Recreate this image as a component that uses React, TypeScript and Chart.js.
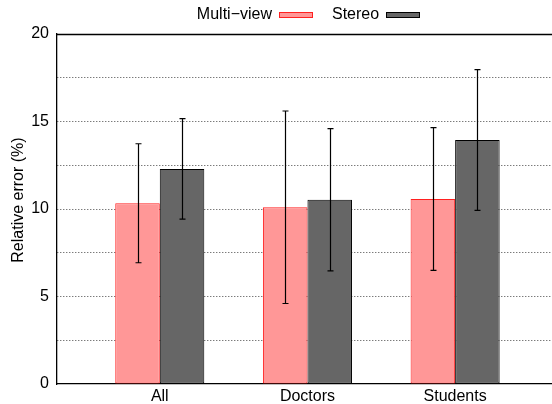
import React, { useEffect, useRef } from "react";
import { Chart, registerables } from "chart.js";

Chart.register(...registerables);

const categories = ["All", "Doctors", "Students"];
const seriesNames = ["Multi\u2212view", "Stereo"];
const multiView = [10.33, 10.1, 10.57];
const multiViewErr = [3.4, 5.5, 4.08];
const stereo = [12.29, 10.53, 13.94];
const stereoErr = [2.87, 4.06, 4.02];
const yLabelTicks = [0, 5, 10, 15, 20];
const yTitle = "Relative error (%)";

const FONT = "'Liberation Sans', Arial, Helvetica, sans-serif";

const errorBarPlugin = {
  id: "errorBars",
  afterDatasetsDraw(chart: any) {
    const ctx = chart.ctx;
    const yScale = chart.scales.y;
    ctx.save();
    ctx.strokeStyle = "#000";
    ctx.lineWidth = 1.2;
    chart.data.datasets.forEach((ds: any, d: number) => {
      const meta = chart.getDatasetMeta(d);
      meta.data.forEach((el: any, j: number) => {
        const v = ds.data[j].y;
        const e = ds.errors[j];
        const x = Math.round(el.x) + 0.5;
        const yHi = yScale.getPixelForValue(v + e);
        const yLo = yScale.getPixelForValue(v - e);
        ctx.beginPath();
        ctx.moveTo(x, yHi);
        ctx.lineTo(x, yLo);
        ctx.moveTo(x - 3, yHi);
        ctx.lineTo(x + 3, yHi);
        ctx.moveTo(x - 3, yLo);
        ctx.lineTo(x + 3, yLo);
        ctx.stroke();
      });
    });
    ctx.restore();
  },
};

const framePlugin = {
  id: "frame",
  afterDraw(chart: any) {
    const ctx = chart.ctx;
    const ca = chart.chartArea;
    ctx.save();
    // top border
    ctx.strokeStyle = "#000";
    ctx.lineWidth = 1.3;
    ctx.beginPath();
    ctx.moveTo(ca.left, Math.round(ca.top) + 0.5);
    ctx.lineTo(ca.right, Math.round(ca.top) + 0.5);
    ctx.stroke();

    // y title
    ctx.fillStyle = "#000";
    ctx.font = `16px ${FONT}`;
    ctx.textAlign = "center";
    ctx.textBaseline = "middle";
    ctx.translate(18.5, (ca.top + ca.bottom) / 2 - 9);
    ctx.rotate(-Math.PI / 2);
    ctx.fillText(yTitle, 0, 0);
    ctx.restore();

    // legend: text then box
    ctx.save();
    ctx.font = `16px ${FONT}`;
    ctx.textBaseline = "alphabetic";
    ctx.textAlign = "left";
    const boxW = 33;
    const textGap = 7;
    const itemGap = 20;
    const widths = chart.data.datasets.map(
      (ds: any) => ctx.measureText(ds.label).width + textGap + boxW
    );
    const total = widths.reduce((a: number, b: number) => a + b, 0) + itemGap * (widths.length - 1);
    let x = (ca.left + ca.right) / 2 + 3.5 - total / 2;
    chart.data.datasets.forEach((ds: any, i: number) => {
      ctx.fillStyle = "#000";
      ctx.fillText(ds.label, x, 19);
      const tw = ctx.measureText(ds.label).width;
      const bx = Math.round(x + tw + textGap) + 0.5;
      ctx.fillStyle = ds.backgroundColor;
      ctx.fillRect(bx, 12.5, boxW, 5);
      ctx.strokeStyle = ds.borderColor;
      ctx.lineWidth = 1;
      ctx.strokeRect(bx, 12.5, boxW, 5);
      x += widths[i] + itemGap;
    });
    ctx.restore();
  },
};

export default function App() {
  const ref = useRef<HTMLCanvasElement | null>(null);

  useEffect(() => {
    if (!ref.current) return;
    Chart.defaults.font.family = FONT;
    Chart.defaults.font.size = 16;
    Chart.defaults.color = "#000";
    const chart = new Chart(ref.current, {
      type: "bar",
      data: {
        datasets: [
          {
            label: seriesNames[0],
            data: categories.map((_, i) => ({ x: i, y: multiView[i] })),
            errors: multiViewErr,
            backgroundColor: "#ff9797",
            borderColor: "#ff2020",
            borderWidth: 1,
            borderSkipped: false,
          } as any,
          {
            label: seriesNames[1],
            data: categories.map((_, i) => ({ x: i, y: stereo[i] })),
            errors: stereoErr,
            backgroundColor: "#666666",
            borderColor: "#000000",
            borderWidth: 1,
            borderSkipped: false,
          } as any,
        ],
      },
      options: {
        responsive: false,
        animation: false,
        devicePixelRatio: 1,
        datasets: {
          bar: { categoryPercentage: 0.603, barPercentage: 1 },
        },
        layout: { padding: { top: 34, right: 0, left: 0, bottom: 0 } },
        plugins: {
          legend: { display: false },
          tooltip: { enabled: false },
          title: { display: false },
        },
        scales: {
          x: {
            type: "linear",
            min: -0.696,
            max: 2.656,
            offset: false,
            grid: { display: false, drawTicks: false },
            border: { display: true, color: "#000", width: 1.3 },
            afterBuildTicks: (scale: any) => {
              scale.ticks = categories.map((_, i) => ({ value: i }));
            },
            afterFit: (scale: any) => {
              scale.height = 20;
            },
            ticks: {
              padding: 3,
              maxRotation: 0,
              autoSkip: false,
              font: { size: 16, family: FONT },
              color: "#000",
              callback: (v: any) => categories[v] ?? "",
            },
          },
          y: {
            min: 0,
            max: 20,
            afterBuildTicks: (scale: any) => {
              const t = [];
              for (let v = 0; v <= 20; v += 2.5) t.push({ value: v });
              scale.ticks = t;
            },
            afterFit: (scale: any) => {
              scale.width = 57;
            },
            grid: {
              drawTicks: false,
              color: (c: any) =>
                c.tick && (c.tick.value === 0 || c.tick.value === 20) ? "rgba(0,0,0,0)" : "#444",
              lineWidth: 1,
            },
            border: { display: true, color: "#000", width: 1.3, dash: [1, 2] as any },
            ticks: {
              padding: 8,
              font: { size: 16, family: FONT },
              color: "#000",
              callback: (v: any) => (yLabelTicks.includes(v) ? String(v) : ""),
            },
          },
        },
      } as any,
      plugins: [errorBarPlugin, framePlugin],
    });
    return () => chart.destroy();
  }, []);

  return (
    <div style={{ position: "fixed", left: 0, top: 0, width: 552, height: 404, background: "#fff" }}>
      <canvas ref={ref} width={552} height={404} style={{ display: "block" }} />
    </div>
  );
}
